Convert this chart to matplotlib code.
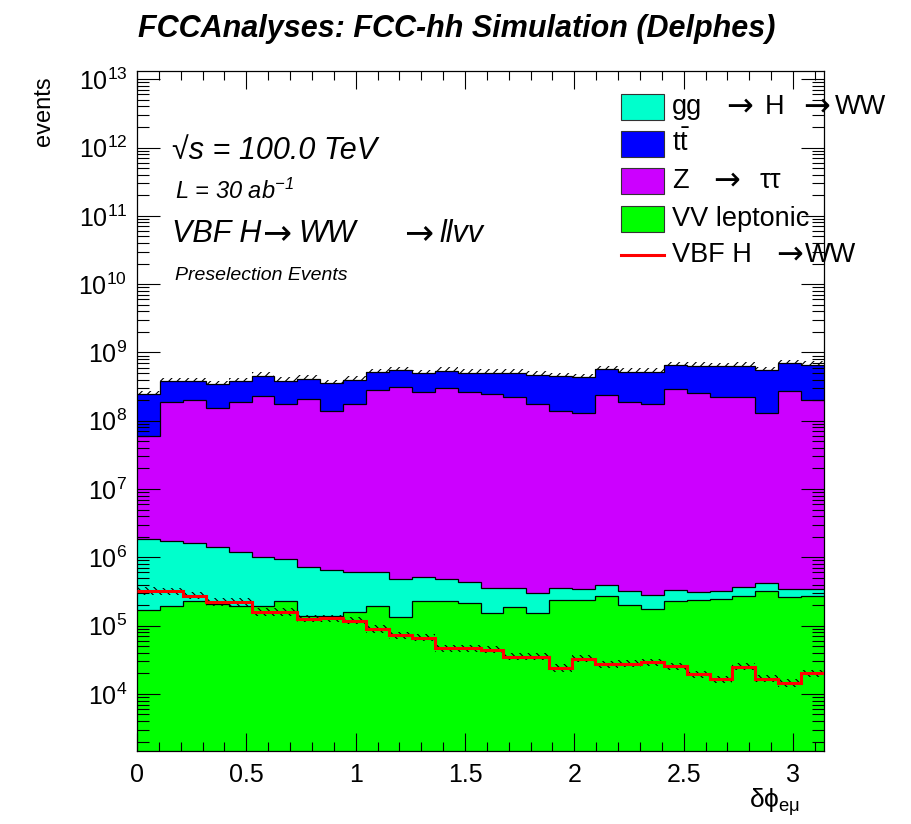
import numpy as np
import matplotlib
matplotlib.use('Agg')
import matplotlib.pyplot as plt
from matplotlib.patches import Rectangle
from matplotlib.lines import Line2D
from matplotlib.ticker import LogLocator, MultipleLocator, LogFormatterMathtext, NullFormatter

plt.rcParams['font.family'] = ['Liberation Sans', 'DejaVu Sans']
plt.rcParams['mathtext.fontset'] = 'custom'
plt.rcParams['mathtext.rm'] = 'Liberation Sans'
plt.rcParams['mathtext.it'] = 'Liberation Sans:italic'
plt.rcParams['mathtext.bf'] = 'Liberation Sans:bold'
plt.rcParams['hatch.linewidth'] = 0.8

# ---------------- data ----------------
n_bins = 30
x_min, x_max = 0.0, np.pi

# VV leptonic (bottom of stack)
vv = [1.67e5, 1.93e5, 2.26e5, 2.04e5, 1.93e5, 1.93e5, 2.31e5, 1.38e5, 1.38e5, 1.56e5,
      1.91e5, 1.32e5, 2.31e5, 2.31e5, 2.13e5, 1.54e5, 1.85e5, 1.54e5, 2.34e5, 2.34e5,
      2.68e5, 2.00e5, 1.73e5, 2.26e5, 2.34e5, 2.44e5, 2.70e5, 3.23e5, 2.61e5, 2.70e5]
# gg -> H -> WW
ggh = [1.66e6, 1.55e6, 1.37e6, 1.19e6, 9.9e5, 8.2e5, 7.2e5, 5.9e5, 5.1e5, 4.5e5,
       4.1e5, 3.5e5, 2.9e5, 2.5e5, 2.2e5, 2.0e5, 1.66e5, 1.48e5, 1.20e5, 1.12e5,
       1.20e5, 1.20e5, 1.10e5, 1.05e5, 7.2e4, 7.9e4, 1.00e5, 1.00e5, 8.3e4, 7.7e4]
# Z -> tautau
ztt = [5.83e7, 1.84e8, 1.99e8, 1.53e8, 1.84e8, 2.31e8, 1.72e8, 2.06e8, 1.39e8, 1.73e8,
       2.77e8, 3.13e8, 2.59e8, 3.00e8, 2.59e8, 2.45e8, 2.24e8, 1.75e8, 1.39e8, 1.30e8,
       2.41e8, 1.86e8, 1.75e8, 2.88e8, 2.51e8, 2.24e8, 2.23e8, 1.30e8, 2.69e8, 2.00e8]
# ttbar
ttbar = [1.85e8, 1.91e8, 1.76e8, 1.89e8, 1.91e8, 2.18e8, 2.11e8, 2.04e8, 2.12e8, 2.20e8,
         2.37e8, 2.37e8, 2.33e8, 2.38e8, 2.43e8, 2.58e8, 2.81e8, 2.90e8, 3.06e8, 3.00e8,
         3.23e8, 3.34e8, 3.40e8, 3.57e8, 3.86e8, 4.00e8, 4.17e8, 4.20e8, 4.21e8, 4.58e8]
# VBF H -> WW signal (not stacked)
vbf = [3.22e5, 3.18e5, 2.74e5, 2.21e5, 2.21e5, 1.58e5, 1.58e5, 1.26e5, 1.28e5, 1.18e5,
       8.9e4, 7.2e4, 6.7e4, 4.65e4, 4.65e4, 4.45e4, 3.49e4, 3.49e4, 2.39e4, 3.29e4,
       2.73e4, 2.78e4, 2.92e4, 2.55e4, 1.93e4, 1.63e4, 2.49e4, 1.68e4, 1.44e4, 2.00e4]

y_min, y_max = 1.46e3, 1.32e13

ARROW = "\u2192"
# legend labels, split into the pieces that ROOT spaces apart
legend_parts = [["gg", ARROW, "H", ARROW, "WW"],
                [r"$\mathregular{t\bar{t}}$"],
                ["Z", ARROW, "\u03c4\u03c4"],
                ["VV leptonic"],
                ["VBF H", ARROW, "WW"]]
colors = ['#00ffcc', '#0000ff', '#cc00ff', '#00ff00', '#ff0000']

# ---------------- figure ----------------
W, H = 911, 824
fig = plt.figure(figsize=(W / 100, H / 100), dpi=100)
L, R, T, B = 137, 824, 71, 751
ax = fig.add_axes([L / W, 1 - B / H, (R - L) / W, (B - T) / H])

def fx(x):
    return x / W

def fy(y):
    return 1 - y / H

edges = np.linspace(x_min, x_max, n_bins + 1)
c1 = np.array(vv)
c2 = c1 + np.array(ggh)
c3 = c2 + np.array(ztt)
c4 = c3 + np.array(ttbar)

ax.stairs(c4, edges, baseline=c3, fill=True, color='#0000ff', zorder=1)
ax.stairs(c3, edges, baseline=c2, fill=True, color='#cc00ff', zorder=1)
ax.stairs(c2, edges, baseline=c1, fill=True, color='#00ffcc', zorder=1)
ax.stairs(c1, edges, baseline=y_min, fill=True, color='#00ff00', zorder=1)
for c in (c1, c2, c3, c4):
    ax.stairs(c, edges, baseline=None, color='black', lw=0.9, zorder=2)

# hatched uncertainty band on total
ax.stairs(c4 * 1.13, edges, baseline=c4, fill=True, facecolor='none',
          edgecolor='black', hatch='////', lw=0, zorder=3)

# signal
vbf_a = np.array(vbf)
ax.stairs(vbf_a * 1.13, edges, baseline=vbf_a / 1.13, fill=True, facecolor='none',
          edgecolor='black', hatch='\\\\\\\\', lw=0, zorder=3)
ax.stairs(vbf_a, edges, baseline=None, color='#ff0000', lw=2.2, zorder=4)

ax.set_yscale('log')
ax.set_xlim(x_min, x_max)
ax.set_ylim(y_min, y_max)

ax.xaxis.set_major_locator(MultipleLocator(0.5))
ax.xaxis.set_minor_locator(MultipleLocator(0.1))
ax.yaxis.set_major_locator(LogLocator(base=10, numticks=20))
ax.yaxis.set_minor_locator(LogLocator(base=10, subs=np.arange(2, 10), numticks=200))
ax.yaxis.set_minor_formatter(NullFormatter())
ax.yaxis.set_major_formatter(LogFormatterMathtext())

ax.tick_params(which='both', direction='in', top=True, right=True, width=0.8, colors='black')
ax.tick_params(axis='x', which='major', length=13, labelsize=18, pad=9)
ax.tick_params(axis='x', which='minor', length=6.5)
ax.tick_params(axis='y', which='major', length=16.5, labelsize=18, pad=7)
ax.tick_params(axis='y', which='minor', length=8.5)
ax.set_xticks([0, 0.5, 1, 1.5, 2, 2.5, 3])
ax.set_xticklabels(['0', '0.5', '1', '1.5', '2', '2.5', '3'])
for s in ax.spines.values():
    s.set_linewidth(0.9)

# titles / labels
fig.text(fx(457), fy(29), 'FCCAnalyses: FCC-hh Simulation (Delphes)', ha='center', va='center',
         fontsize=22, fontweight='bold', fontstyle='italic')
fig.text(fx(44), fy(76), 'events', rotation=90, ha='center', va='top', fontsize=17)
fig.text(fx(800), fy(802), r'$\mathregular{\delta\phi_{e\mu}}$', ha='right', va='center', fontsize=19)

fig.text(fx(172), fy(151), '\u221as = 100.0 TeV', ha='left', va='center', fontsize=22,
         fontstyle='italic')
fig.text(fx(175), fy(191), r'L = 30 ab$^{\mathregular{-1}}$', ha='left', va='center', fontsize=17,
         fontstyle='italic')
for txt, xp in zip(["VBF H", ARROW, "WW", ARROW, "llvv"], [172, 262, 298, 404, 440]):
    if txt == ARROW:
        fig.text(fx(xp), fy(233), txt, ha='left', va='center', fontsize=25,
                 family='DejaVu Sans')
    else:
        fig.text(fx(xp), fy(234), txt, ha='left', va='center', fontsize=22, fontstyle='italic')
fig.text(fx(175), fy(275), 'Preselection Events', ha='left', va='center', fontsize=14,
         fontstyle='italic')

# legend
leg_y = [106.7, 143.7, 181, 219, 255]
part_x = [[672, 726, 765, 803, 835], [672], [672, 713, 760], [672], [672, 776, 805]]
for i, (parts, col) in enumerate(zip(legend_parts, colors)):
    yc = leg_y[i]
    if i < 4:
        fig.add_artist(Rectangle((fx(621), fy(yc + 13)), (664 - 621) / W, 26 / H,
                                 transform=fig.transFigure, facecolor=col,
                                 edgecolor='#333333', lw=0.8))
    else:
        fig.add_artist(Line2D([fx(621), fx(664)], [fy(yc), fy(yc)], transform=fig.transFigure,
                              color=col, lw=2.2))
    for txt, xp in zip(parts, part_x[i]):
        if txt == ARROW:
            fig.text(fx(xp), fy(yc), txt, ha='left', va='center', fontsize=23,
                     family='DejaVu Sans')
        else:
            fig.text(fx(xp), fy(yc), txt, ha='left', va='center', fontsize=19.5)

fig.savefig('out.png', dpi=100)
